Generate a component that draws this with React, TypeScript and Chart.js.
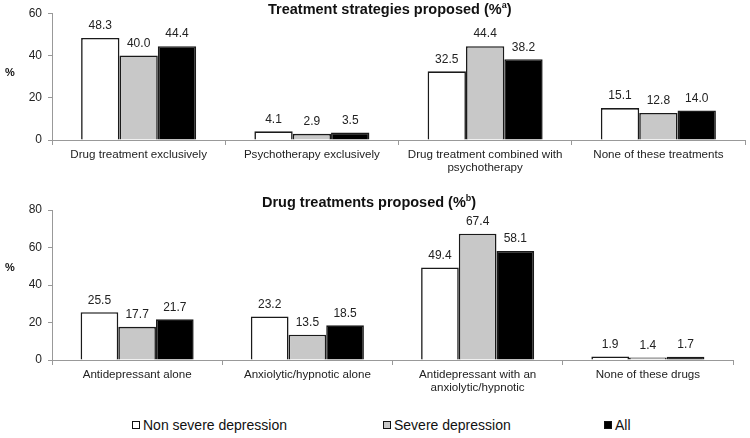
import React, { useEffect, useRef } from "react";
import { Chart, registerables } from "chart.js";

Chart.register(...registerables);

const seriesNames = ["Non severe depression", "Severe depression", "All"];
const seriesColors = ["#ffffff", "#c8c8c8", "#000000"];

const topCategories = [
  ["Drug treatment exclusively"],
  ["Psychotherapy exclusively"],
  ["Drug treatment combined with", "psychotherapy"],
  ["None of these treatments"],
];
const topNonSevere = [48.3, 4.1, 32.5, 15.1];
const topSevere = [40.0, 2.9, 44.4, 12.8];
const topAll = [44.4, 3.5, 38.2, 14.0];
const topMax = 60;

const bottomCategories = [
  ["Antidepressant alone"],
  ["Anxiolytic/hypnotic alone"],
  ["Antidepressant with an", "anxiolytic/hypnotic"],
  ["None of these drugs"],
];
const bottomNonSevere = [25.5, 23.2, 49.4, 1.9];
const bottomSevere = [17.7, 13.5, 67.4, 1.4];
const bottomAll = [21.7, 18.5, 58.1, 1.7];
const bottomMax = 80;

const tickStep = 20;

const FONT = "'Liberation Sans', Arial, Helvetica, sans-serif";

const valueLabels = {
  id: "valueLabels",
  afterDatasetsDraw(chart: any) {
    const ctx = chart.ctx;
    ctx.save();
    ctx.font = `12px ${FONT}`;
    ctx.fillStyle = "#222";
    ctx.textAlign = "center";
    ctx.textBaseline = "bottom";
    chart.data.datasets.forEach((ds: any, i: number) => {
      const meta = chart.getDatasetMeta(i);
      meta.data.forEach((bar: any, j: number) => {
        ctx.fillText(Number(ds.data[j]).toFixed(1), bar.x, bar.y - 6);
      });
    });
    ctx.restore();
  },
};

function makeConfig(
  labels: string[][],
  series: number[][],
  max: number,
  topPad: number,
  rightPad: number
): any {
  return {
    type: "bar",
    data: {
      labels,
      datasets: series.map((d, i) => ({
        label: seriesNames[i],
        data: d,
        backgroundColor: seriesColors[i],
        borderColor: "#1a1a1a",
        borderWidth: 1.6,
        categoryPercentage: 0.664,
        barPercentage: 1,
      })),
    },
    options: {
      responsive: false,
      animation: false,
      devicePixelRatio: 1,
      layout: { padding: { top: topPad, right: rightPad, left: 0, bottom: 0 } },
      plugins: {
        legend: { display: false },
        title: { display: false },
        tooltip: { enabled: false },
      },
      scales: {
        x: {
          grid: {
            display: true,
            drawOnChartArea: false,
            drawTicks: true,
            tickLength: 5,
            color: "#999",
            offset: true,
          },
          border: { display: true, color: "#999", width: 1 },
          ticks: {
            font: { family: FONT, size: 11.6, lineHeight: 1.15 },
            color: "#222",
            maxRotation: 0,
            autoSkip: false,
            padding: 3,
          },
          afterFit: (s: any) => {
            s.height = 40;
          },
        },
        y: {
          min: 0,
          max,
          ticks: {
            stepSize: tickStep,
            font: { family: FONT, size: 12 },
            color: "#222",
            padding: 6,
          },
          grid: {
            drawOnChartArea: false,
            drawTicks: true,
            tickLength: 4,
            color: "#999",
          },
          border: { display: true, color: "#999", width: 1 },
          afterFit: (s: any) => {
            s.width = 52;
          },
        },
      },
    },
    plugins: [valueLabels],
  };
}

function BarPanel(props: {
  labels: string[][];
  series: number[][];
  max: number;
  height: number;
  topPad: number;
  rightPad: number;
}) {
  const ref = useRef<HTMLCanvasElement | null>(null);
  useEffect(() => {
    if (!ref.current) return;
    const chart = new Chart(
      ref.current,
      makeConfig(props.labels, props.series, props.max, props.topPad, props.rightPad)
    );
    return () => chart.destroy();
  }, []);
  return (
    <canvas
      ref={ref}
      width={750}
      height={props.height}
      style={{ display: "block", width: 750, height: props.height }}
    />
  );
}

export default function App() {
  const text: React.CSSProperties = {
    position: "absolute",
    fontFamily: FONT,
    color: "#111",
    whiteSpace: "nowrap",
  };
  const legendLefts = [132, 383, 604];
  return (
    <div
      style={{
        position: "fixed",
        left: 0,
        top: 0,
        width: 750,
        height: 438,
        background: "#fff",
        overflow: "hidden",
      }}
    >
      <div style={{ position: "absolute", left: 0, top: 0 }}>
        <BarPanel
          labels={topCategories}
          series={[topNonSevere, topSevere, topAll]}
          max={topMax}
          height={180}
          topPad={11}
          rightPad={5}
        />
      </div>
      <div style={{ position: "absolute", left: 0, top: 180 }}>
        <BarPanel
          labels={bottomCategories}
          series={[bottomNonSevere, bottomSevere, bottomAll]}
          max={bottomMax}
          height={220}
          topPad={30}
          rightPad={17}
        />
      </div>
      <div style={{ ...text, left: 268, top: 0, fontSize: 14.5, fontWeight: "bold", lineHeight: "18px" }}>
        Treatment strategies proposed (%<sup style={{ fontSize: 9, lineHeight: 0 }}>a</sup>)
      </div>
      <div style={{ ...text, left: 262, top: 193, fontSize: 14.5, fontWeight: "bold", lineHeight: "18px" }}>
        Drug treatments proposed (%<sup style={{ fontSize: 9, lineHeight: 0 }}>b</sup>)
      </div>
      <div style={{ ...text, left: 5, top: 66, fontSize: 11, fontWeight: "bold" }}>%</div>
      <div style={{ ...text, left: 5, top: 261, fontSize: 11, fontWeight: "bold" }}>%</div>
      {seriesNames.map((name, i) => (
        <div
          key={name}
          style={{
            ...text,
            left: legendLefts[i],
            top: 416,
            fontSize: 14,
            lineHeight: "18px",
            display: "flex",
            alignItems: "center",
          }}
        >
          <span
            style={{
              display: "inline-block",
              width: 6,
              height: 6,
              border: "1px solid #111",
              background: seriesColors[i],
              marginRight: 3,
            }}
          />
          {name}
        </div>
      ))}
    </div>
  );
}
